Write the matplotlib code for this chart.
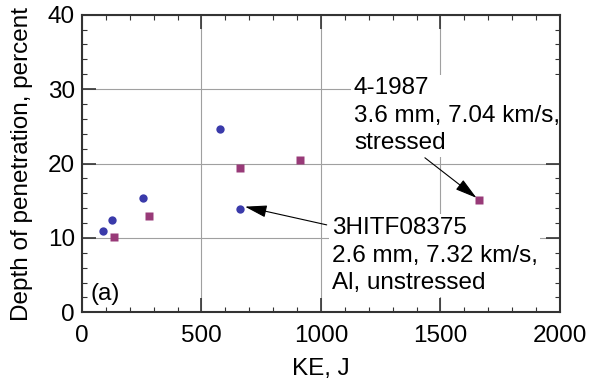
import matplotlib
matplotlib.use('Agg')
import matplotlib.pyplot as plt
from matplotlib.ticker import MultipleLocator

plt.rcParams['font.family'] = ['Liberation Sans', 'DejaVu Sans']

# unstressed (circles) and stressed (squares) shots
ke_circ = [89, 126, 256, 576, 661]
dop_circ = [10.9, 12.4, 15.4, 24.6, 13.9]
ke_sq = [135, 280, 660, 912, 1662]
dop_sq = [10.1, 13.0, 19.4, 20.5, 15.1]

FS = 17.5

fig = plt.figure(figsize=(5.9, 3.83), dpi=100)
ax = fig.add_axes([0.139, 0.1846, 0.81, 0.777])

ax.plot(ke_circ, dop_circ, 'o', color='#3a3aaa', ms=6, mec='none', zorder=4)
ax.plot(ke_sq, dop_sq, 's', color='#983a78', ms=5.2, mec='none', zorder=4)

ax.set_xlim(0, 2000)
ax.set_ylim(0, 40)
ax.xaxis.set_major_locator(MultipleLocator(500))
ax.xaxis.set_minor_locator(MultipleLocator(100))
ax.yaxis.set_major_locator(MultipleLocator(10))
ax.yaxis.set_minor_locator(MultipleLocator(2))
ax.set_axisbelow(True)
ax.grid(True, which='major', color='#a0a0a0', lw=0.8)
ax.tick_params(which='both', direction='in', top=True, right=True,
               labelsize=FS, color='#333333', pad=5)
ax.tick_params(axis='x', which='both', pad=9)
ax.tick_params(which='major', length=10, width=1.2)
ax.tick_params(which='minor', length=3.5, width=0.8)
for s in ax.spines.values():
    s.set_color('#333333')
    s.set_linewidth(1.5)

ax.set_xlabel('KE, J', fontsize=FS, labelpad=8)
ax.set_ylabel('Depth of penetration, percent', fontsize=FS, labelpad=11)

box = dict(facecolor='white', edgecolor='none', pad=2)
ax.text(1138, 31.6, '4-1987\n3.6 mm, 7.04 km/s,\nstressed', fontsize=FS,
        va='top', ha='left', linespacing=1.32, bbox=box, zorder=2)
ax.text(1045, 12.8, '3HITF08375\n2.6 mm, 7.32 km/s,\nAl, unstressed', fontsize=FS,
        va='top', ha='left', linespacing=1.32, bbox=box, zorder=2)
ax.text(0.017, 0.04, '(a)', fontsize=FS, transform=ax.transAxes, va='baseline')

arrow = dict(arrowstyle='-|>,head_length=0.9,head_width=0.25', color='black',
             lw=0.8, shrinkA=0, shrinkB=0, mutation_scale=15)
ax.annotate('', xy=(1651, 15.38), xytext=(1435, 20.77), arrowprops=arrow, zorder=5)
ax.annotate('', xy=(682, 14.2), xytext=(1024, 11.75), arrowprops=arrow, zorder=5)

fig.savefig('out.png', dpi=100)
